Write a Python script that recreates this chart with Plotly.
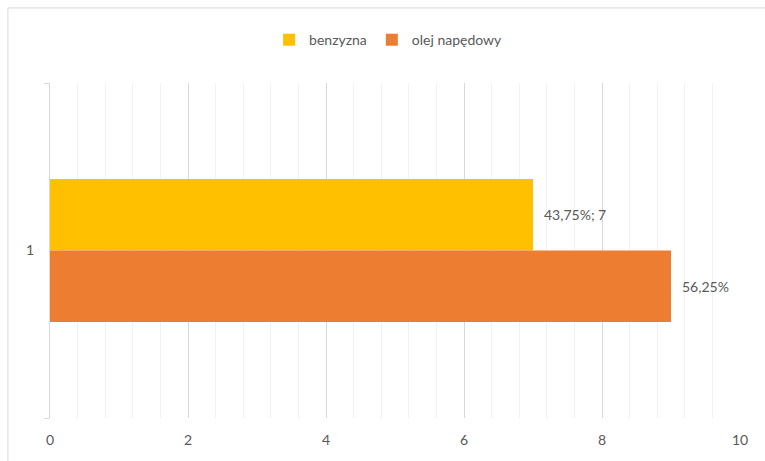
import plotly.graph_objects as go

categories = ["1"]
series_names = ["benzyzna", "olej napędowy"]
series_values = [[7], [9]]
series_colors = ["#FFC000", "#ED7D31"]
x_ticks = [0, 2, 4, 6, 8, 10]

total = sum(v[0] for v in series_values)


def pct(v):
    return f"{v / total * 100:.2f}".replace(".", ",") + "%"


labels = [
    f"{pct(series_values[0][0])}; {series_values[0][0]}",
    pct(series_values[1][0]),
]

font = "Lato, 'Open Sans', sans-serif"
fig = go.Figure()
for name, vals, col in zip(series_names, series_values, series_colors):
    fig.add_trace(go.Bar(
        y=categories, x=vals, name=name, orientation="h",
        marker=dict(color=col, line=dict(width=0)),
    ))

# value labels beside each bar end
bar_h = 0.5 * (1 - 0.573)
for i, (vals, txt) in enumerate(zip(series_values, labels)):
    ypos = -bar_h / 2 if i == 0 else bar_h / 2
    fig.add_annotation(x=vals[0], y=ypos, xref="x", yref="y", text=txt,
                       showarrow=False, xanchor="left", yanchor="middle", xshift=9,
                       font=dict(size=14, color="#595959", family=font))

fig.update_layout(
    width=765, height=461,
    margin=dict(l=50, r=25, t=83, b=43),
    paper_bgcolor="white", plot_bgcolor="white",
    barmode="group", bargap=0.573, bargroupgap=0,
    font=dict(family=font, size=14, color="#595959"),
    showlegend=True,
    legend=dict(orientation="h", x=0.49, xanchor="center", y=1.128, yanchor="middle",
                font=dict(size=14, color="#595959"), itemwidth=30,
                traceorder="normal"),
    xaxis=dict(range=[0, 10], tickvals=x_ticks, showgrid=True, gridcolor="#D9D9D9",
               gridwidth=1, zeroline=False, showline=False, ticks="",
               tickfont=dict(size=14, color="#595959"), ticklabelstandoff=12,
               minor=dict(dtick=0.4, showgrid=True, gridcolor="#F2F2F2", gridwidth=1)),
    yaxis=dict(range=[0.5, -0.5], showgrid=False, zeroline=False,
               showline=True, linecolor="#D9D9D9", linewidth=1,
               ticks="outside", tickson="boundaries", ticklen=5, tickcolor="#D9D9D9",
               tickfont=dict(size=14, color="#595959"), ticklabelstandoff=12),
)

# chart frame
fig.add_shape(type="rect", xref="paper", yref="paper",
              x0=-0.061, x1=1.2, y0=-0.3, y1=1.224,
              line=dict(color="#D9D9D9", width=1), fillcolor="rgba(0,0,0,0)",
              layer="below")

fig.write_html("out.html")
